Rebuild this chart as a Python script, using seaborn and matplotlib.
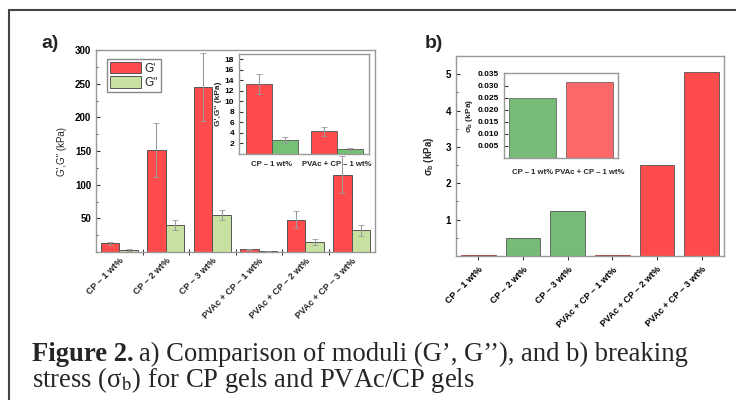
import seaborn as sns
import matplotlib.pyplot as plt
import matplotlib.lines as mlines
import pandas as pd
from matplotlib.ticker import MultipleLocator, FixedLocator

# ---- data ----
cats = ['CP – 1 wt%', 'CP – 2 wt%', 'CP – 3 wt%',
        'PVAc + CP – 1 wt%', 'PVAc + CP – 2 wt%', 'PVAc + CP – 3 wt%']
g1 = [13, 152, 245, 4, 48, 115]
g1_err = [2, 40, 50, 1, 13, 27]
g2 = [3, 40, 55, 1, 15, 32]
g2_err = [1, 7, 8, 0.5, 4, 8]

inset_cats = ['CP – 1 wt%', 'PVAc + CP – 1 wt%']
inset_g1 = [13.3, 4.3]
inset_g1_err = [1.9, 0.8]
inset_g2 = [2.7, 1.0]
inset_g2_err = [0.6, 0.2]

sigma_b = [0.025, 0.5, 1.25, 0.032, 2.5, 5.05]
inset_sigma = [0.0248, 0.0316]

RED = '#ff4b4b'
LGREEN = '#c8e0a0'
MGREEN = '#74c074'
BGREEN = '#76bb76'
LRED = '#ff6868'
EDGE = '#555555'
SPINE = '#999999'

sns.set_style('white')
plt.rcParams['font.family'] = ['Liberation Sans', 'DejaVu Sans']
plt.rcParams['mathtext.fontset'] = 'custom'
plt.rcParams['mathtext.rm'] = 'Liberation Sans'
plt.rcParams['mathtext.bf'] = 'Liberation Sans:bold'

fig = plt.figure(figsize=(7.36, 4.0), dpi=100)


def style_box(ax, size=7):
    for s in ax.spines.values():
        s.set_visible(True)
        s.set_color(SPINE)
        s.set_linewidth(1.0)
    ax.tick_params(axis='y', direction='in', length=3, width=0.8, colors='#333333',
                   labelsize=size, left=True)
    ax.tick_params(axis='y', which='minor', direction='in', length=1.5, width=0.6, left=True)
    for lab in ax.get_yticklabels():
        lab.set_fontweight('bold')
        lab.set_color('black')


def add_err(ax, errs_list):
    for cont, errs in zip(ax.containers, errs_list):
        xs = [b.get_x() + b.get_width() / 2 for b in cont]
        ys = [b.get_height() for b in cont]
        ax.errorbar(xs, ys, yerr=errs, fmt='none', ecolor='#9a9a9a',
                    elinewidth=0.8, capsize=2, capthick=0.6, zorder=5)


# ---- panel a ----
df_a = pd.DataFrame({
    'cat': cats * 2,
    'val': g1 + g2,
    'series': ["G'"] * len(cats) + ['G"'] * len(cats),
})
ax_a = fig.add_axes([96 / 736, 148 / 400, 279 / 736, 202 / 400])
sns.barplot(data=df_a, x='cat', y='val', hue='series', palette=[RED, LGREEN],
            saturation=1, errorbar=None, width=0.8, edgecolor=EDGE, linewidth=0.7,
            ax=ax_a)
add_err(ax_a, [g1_err, g2_err])
ax_a.set_ylim(0, 300)
ax_a.set_xlim(-0.5, 5.5)
ax_a.set_yticks([50, 100, 150, 200, 250, 300])
ax_a.yaxis.set_minor_locator(MultipleLocator(25))
style_box(ax_a, 7)
ax_a.set_xlabel('')
ax_a.set_ylabel("G',G'' (kPa)", fontsize=7, labelpad=6)
ax_a.xaxis.set_minor_locator(FixedLocator([0.5, 1.5, 2.5, 3.5, 4.5]))
ax_a.tick_params(axis='x', which='major', length=0, labelsize=6.5, pad=3)
ax_a.tick_params(axis='x', which='minor', direction='inout', length=4, width=0.7,
                 bottom=True, colors='#333333')
ax_a.set_xticks(range(len(cats)))
ax_a.set_xticklabels(cats, rotation=45, ha='right', rotation_mode='anchor',
                     fontweight='bold')
ax_a.legend(handles=ax_a.get_legend().legend_handles, labels=["G'", 'G"'],
            loc='upper left', bbox_to_anchor=(0.02, 0.985), fontsize=8.5,
            handlelength=2.6, handleheight=1.1, handletextpad=0.3,
            borderpad=0.25, labelspacing=0.15, frameon=True, fancybox=False,
            edgecolor='#888888', framealpha=1)

# inset a
df_ai = pd.DataFrame({
    'cat': inset_cats * 2,
    'val': inset_g1 + inset_g2,
    'series': ["G'"] * 2 + ['G"'] * 2,
})
ax_ai = fig.add_axes([239 / 736, 246 / 400, 130 / 736, 100 / 400])
sns.barplot(data=df_ai, x='cat', y='val', hue='series', palette=[RED, MGREEN],
            saturation=1, errorbar=None, width=0.8, edgecolor=EDGE, linewidth=0.6,
            ax=ax_ai, legend=False)
add_err(ax_ai, [inset_g1_err, inset_g2_err])
ax_ai.set_ylim(0, 19)
ax_ai.set_xlim(-0.5, 1.5)
ax_ai.set_yticks(range(2, 19, 2))
style_box(ax_ai, 6)
ax_ai.set_xlabel('')
ax_ai.set_ylabel("G',G'' (kPa)", fontsize=6, fontweight='bold', labelpad=2)
ax_ai.tick_params(axis='x', length=0, labelsize=5.6, pad=5)
ax_ai.set_xticks([0, 1])
ax_ai.set_xticklabels(inset_cats, fontweight='bold')

# ---- panel b ----
ax_b = fig.add_axes([456 / 736, 144 / 400, 268 / 736, 200 / 400])
sns.barplot(x=cats, y=sigma_b, hue=cats,
            palette=[RED, BGREEN, BGREEN, RED, RED, RED], legend=False,
            saturation=1, width=0.78, edgecolor=EDGE, linewidth=0.6, ax=ax_b)
for i in (0, 3):
    ax_b.patches[i].set_edgecolor('#a03030')
ax_b.set_ylim(0, 5.5)
ax_b.set_xlim(-0.5, 5.5)
ax_b.set_yticks([1, 2, 3, 4, 5])
ax_b.yaxis.set_minor_locator(MultipleLocator(0.5))
style_box(ax_b, 7)
ax_b.set_ylabel(r'σ$_\mathbf{b}$ (kPa)', fontsize=7, fontweight='bold', labelpad=7)
ax_b.tick_params(axis='x', direction='out', length=3, width=0.7, bottom=True,
                 labelsize=6.5, colors='#333333')
ax_b.set_xticks(range(len(cats)))
ax_b.set_xticklabels(cats, rotation=45, ha='right', rotation_mode='anchor',
                     fontweight='bold', color='black')

# inset b
ax_bi = fig.add_axes([504 / 736, 242 / 400, 114 / 736, 85 / 400])
sns.barplot(x=inset_cats, y=inset_sigma, hue=inset_cats, palette=[BGREEN, LRED],
            saturation=1, legend=False, width=0.81, edgecolor=EDGE, linewidth=0.5,
            ax=ax_bi)
ax_bi.set_ylim(0, 0.0352)
ax_bi.set_xlim(-0.5, 1.5)
ax_bi.set_yticks([0.005, 0.010, 0.015, 0.020, 0.025, 0.030, 0.035])
ax_bi.set_yticklabels(['0.005', '0.010', '0.015', '0.020', '0.025', '0.030', '0.035'])
style_box(ax_bi, 6)
ax_bi.set_ylabel(r'σ$_\mathbf{b}$ (kPa)', fontsize=6, fontweight='bold', labelpad=2)
ax_bi.tick_params(axis='x', length=0, labelsize=5.6, pad=8)
ax_bi.set_xticks([0, 1])
ax_bi.set_xticklabels(inset_cats, fontweight='bold')

# ---- panel letters ----
fig.text(41 / 736, 1 - 43 / 400, 'a)', fontsize=14, fontweight='bold', va='center')
fig.text(425 / 736, 1 - 43 / 400, 'b)', fontsize=14, fontweight='bold', va='center')

# ---- document frame ----
fig.add_artist(mlines.Line2D([9 / 736, 1], [1 - 10 / 400, 1 - 10 / 400],
                             color='#444444', lw=1.5))
fig.add_artist(mlines.Line2D([9 / 736, 9 / 736], [0, 1 - 10 / 400],
                             color='#444444', lw=1.5))

# ---- caption ----
cap_kw = dict(fontsize=19.2, family='Liberation Serif', math_fontfamily='stix',
              va='baseline')
t1 = fig.text(32 / 736, 1 - 361 / 400, 'Figure 2.', fontweight='bold', **cap_kw)
fig.canvas.draw()
bb = t1.get_window_extent(renderer=fig.canvas.get_renderer())
fig.text((bb.x1 + 5) / 736, 1 - 361 / 400,
         "a) Comparison of moduli (G’, G’’), and b) breaking", **cap_kw)
fig.text(32 / 736, 1 - 387 / 400, 'stress (σ$_\\mathrm{b}$) for CP gels and PVAc/CP gels',
         **cap_kw)

fig.savefig('out.png', dpi=100)
